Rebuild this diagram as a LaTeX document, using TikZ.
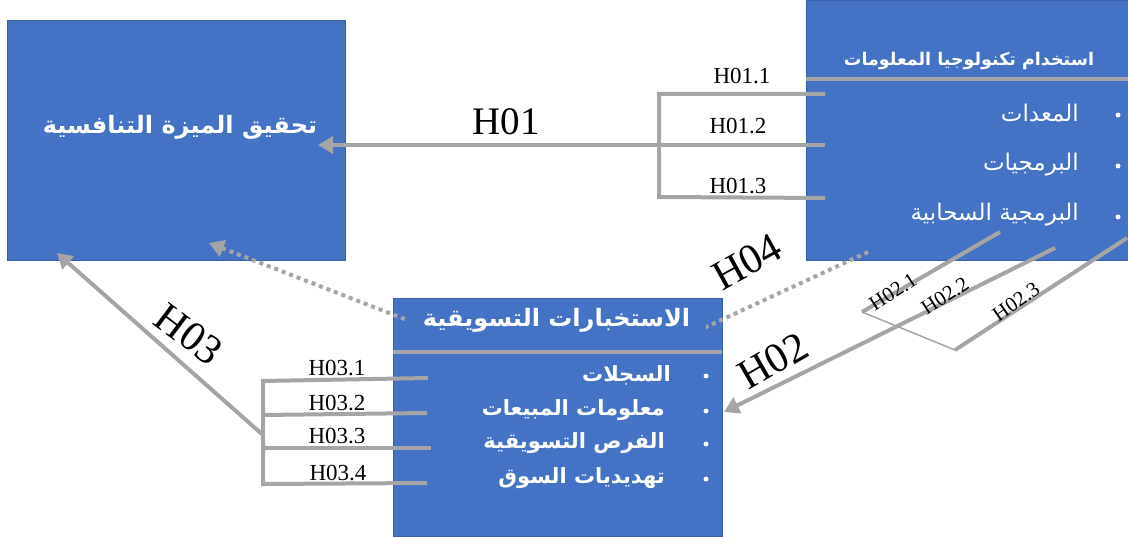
\documentclass[tikz,border=0pt]{standalone}
\usepackage{fontspec}
\setmainfont{Liberation Serif}
\newfontfamily\arabicfont[Script=Arabic]{DejaVu Sans}
\TeXXeTstate=1
\usetikzlibrary{arrows.meta}
\definecolor{boxblue}{HTML}{4472C4}
\definecolor{lgrey}{HTML}{A5A5A5}
\tikzset{
  box/.style={draw=boxblue!85!black, line width=0.6pt, fill=boxblue, inner sep=0pt},
  ar/.style={text=white, font=\arabicfont, inner sep=1pt},
  conn/.style={draw=lgrey, line width=4pt},
  thinconn/.style={draw=lgrey, line width=1.5pt},
  harrow/.style={-{Triangle[length=15pt,width=17pt]}},
  small/.style={font=\fontsize{23}{23}\selectfont, inner sep=0pt},
  smallr/.style={font=\fontsize{21}{21}\selectfont, inner sep=0pt},
  big/.style={font=\fontsize{39}{39}\selectfont, inner sep=0pt},
  bigr/.style={font=\fontsize{42}{42}\selectfont, inner sep=0pt},
  dots/.style={draw=lgrey, line width=4pt, dash pattern=on 4pt off 4pt},
  sep/.style={draw=lgrey, line width=4pt},
  bul/.style={fill=white, circle, inner sep=0pt, minimum size=5pt},
}
\begin{document}
\begin{tikzpicture}[x=1pt,y=-1pt]
\useasboundingbox (0,0) rectangle (1128,537);
% boxes
\node[box, minimum width=338pt, minimum height=240pt] (goal) at (176,140) {};
\node[box, minimum width=322pt, minimum height=260pt] (it) at (967,130) {};
\node[box, minimum width=329pt, minimum height=238pt] (mi) at (557.5,417) {};
% separators
\draw[sep] (it.west |- 0,79) coordinate (s1a) -- (it.east |- 0,79) coordinate (s1b);
\draw[sep] (mi.west |- 0,352) coordinate (s2a) -- (mi.east |- 0,352) coordinate (s2b);
% H01 bracket
\coordinate (c11) at (659,94);  \coordinate (e11) at (825,94);
\coordinate (c12) at (659,145); \coordinate (e12) at (825,145);
\coordinate (c13) at (659,197); \coordinate (e13) at (825,198);
\coordinate (h01tip) at (318,145);
\draw[conn] (e11) -- (c11) -- (c13) -- (e13);
\draw[conn,harrow] (e12) -- (h01tip);
% H03 bracket
\coordinate (c31) at (263,381); \coordinate (e31) at (428,378);
\coordinate (c32) at (263,415); \coordinate (e32) at (427,413);
\coordinate (c33) at (263,448); \coordinate (e33) at (431,448);
\coordinate (c34) at (263,484); \coordinate (e34) at (427,483);
\coordinate (h03s) at (263,435);
\coordinate (h03tip) at (57,253);
\draw[conn] (e31) -- (c31) -- (c34) -- (e34);
\draw[conn] (c32) -- (e32);
\draw[conn] (c33) -- (e33);
\draw[conn,harrow] (h03s) -- (h03tip);
% H02
\coordinate (h21a) at (1000,232); \coordinate (h21b) at (862,312);
\coordinate (h22a) at (1055,248); \coordinate (h02tip) at (724,412);
\coordinate (h23a) at (1127,238); \coordinate (h23b) at (955,350);
\draw[conn] (h21a) -- (h21b);
\draw[conn] (h23a) -- (h23b);
\draw[thinconn] (h21b) -- (h23b);
\draw[conn,harrow] (h22a) -- (h02tip);
% H04 dotted
\coordinate (d1) at (868,252); \coordinate (d2) at (706,327);
\coordinate (d3) at (407,320); \coordinate (h04tip) at (209,243);
\draw[dots,harrow] (d1) -- (d2) -- (d3) -- (h04tip);
% texts
\node[ar] (goalt) at (180,127) {\fontsize{24}{24}\selectfont\bfseries\beginR تحقيق الميزة التنافسية\endR};
\node[ar] (itt) at (969,61) {\fontsize{17.5}{17.5}\selectfont\bfseries\beginR استخدام تكنولوجيا المعلومات\endR};
\node[ar, anchor=east] (it1) at (1080,113) {\fontsize{23}{23}\selectfont\beginR المعدات\endR};
\node[ar, anchor=east] (it2) at (1080,165) {\fontsize{23}{23}\selectfont\beginR البرمجيات\endR};
\node[ar, anchor=east] (it3) at (1080,215) {\fontsize{23}{23}\selectfont\beginR البرمجية السحابية\endR};
\node[bul] (b1) at (1118,115) {};
\node[bul] (b2) at (1118,166) {};
\node[bul] (b3) at (1118,217) {};
\node[ar, fill=boxblue, minimum width=298pt, minimum height=30pt] (mit) at (556.5,320) {\fontsize{24}{24}\selectfont\bfseries\beginR الاستخبارات التسويقية\endR};
\node[ar, anchor=east] (mi1) at (672,375) {\fontsize{21}{21}\selectfont\bfseries\beginR السجلات\endR};
\node[ar, anchor=east] (mi2) at (666,410) {\fontsize{21}{21}\selectfont\bfseries\beginR معلومات المبيعات\endR};
\node[ar, anchor=east] (mi3) at (666,443) {\fontsize{21}{21}\selectfont\bfseries\beginR الفرص التسويقية\endR};
\node[ar, anchor=east] (mi4) at (666,478) {\fontsize{21}{21}\selectfont\bfseries\beginR تهديديات السوق\endR};
\node[bul] (b4) at (706,376) {};
\node[bul] (b5) at (706,411) {};
\node[bul] (b6) at (706,444) {};
\node[bul] (b7) at (706,479) {};
% labels
\node[small] (l11) at (742,76) {H01.1};
\node[small] (l12) at (738,126) {H01.2};
\node[small] (l13) at (738,186) {H01.3};
\node[small] (l31) at (337,368) {H03.1};
\node[small] (l32) at (337,403) {H03.2};
\node[small] (l33) at (337,436) {H03.3};
\node[small] (l34) at (338,473) {H03.4};
\node[smallr, rotate=33] (l21) at (893,292) {H02.1};
\node[smallr, rotate=33] (l22) at (945,296) {H02.2};
\node[smallr, rotate=35] (l23) at (1016,302) {H02.3};
\node[big] (H01) at (506,122) {H01};
\node[bigr, rotate=29] (H04) at (747,262) {H04};
\node[bigr, rotate=30] (H02) at (773,361) {H02};
\node[bigr, rotate=-37] (H03) at (189,334) {H03};
\end{tikzpicture}
\end{document}
